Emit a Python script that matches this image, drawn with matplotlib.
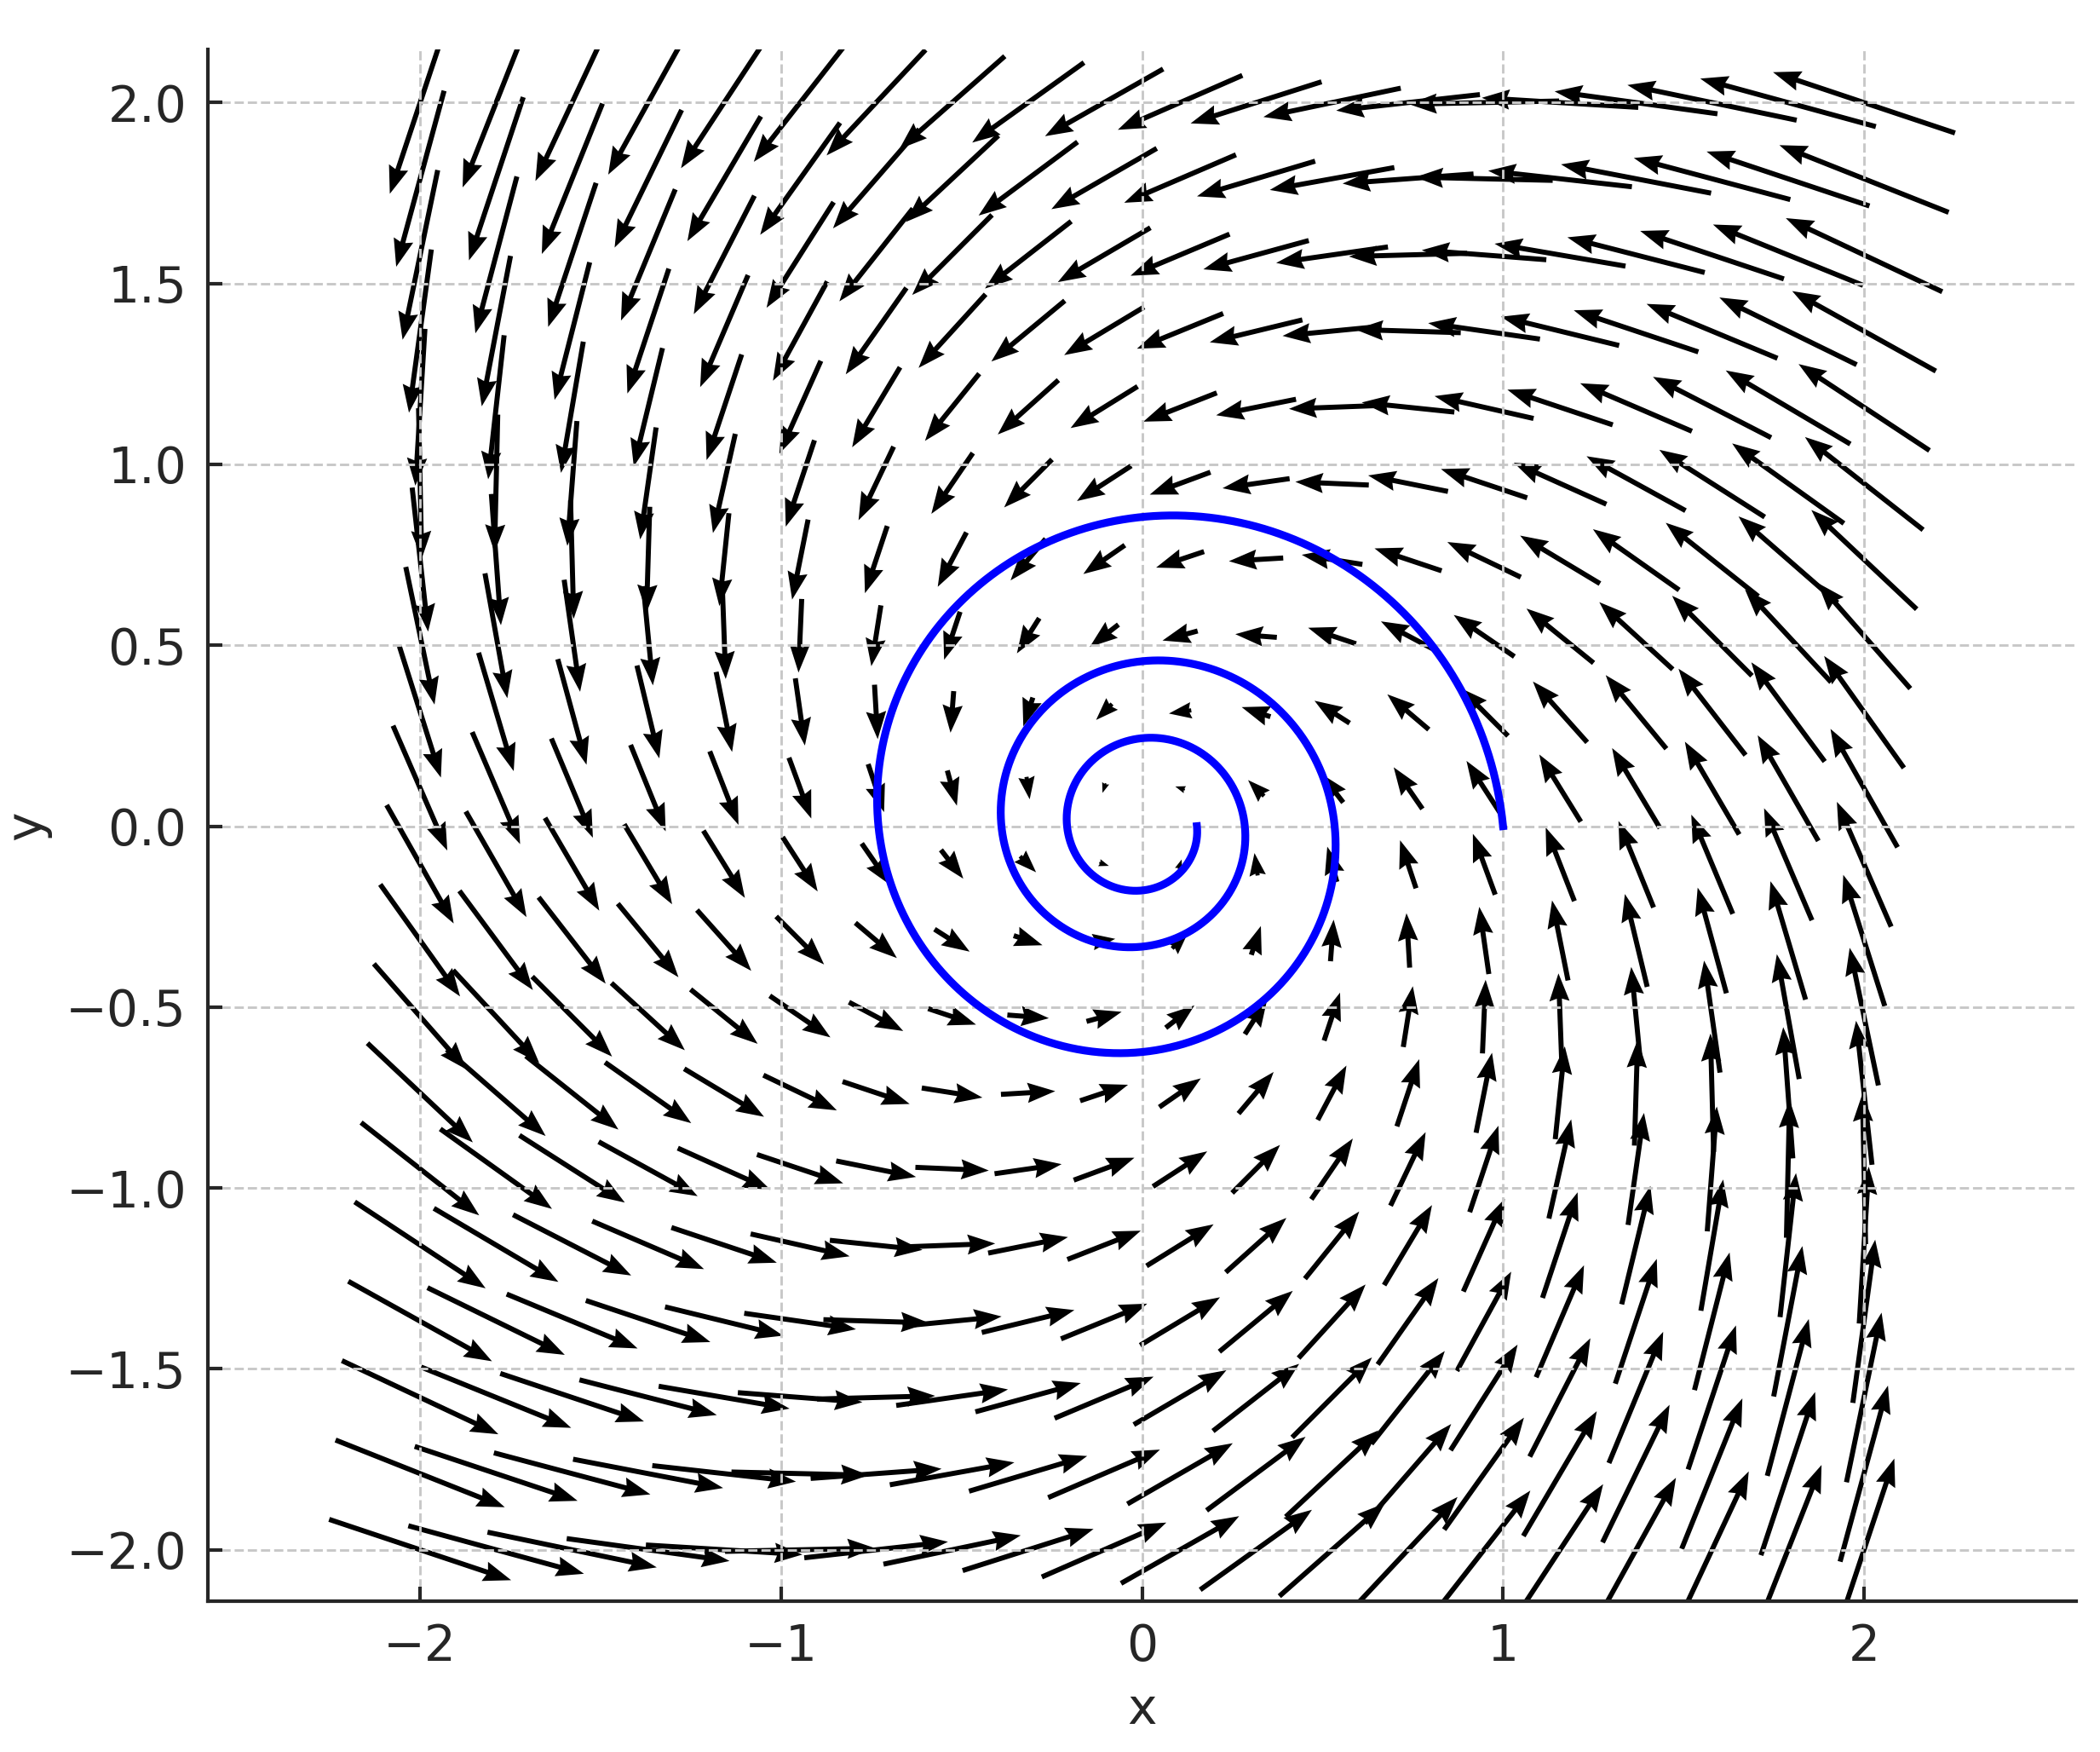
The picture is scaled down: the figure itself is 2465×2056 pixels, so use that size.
"""Direction field of a damped linear rotation with a spiral trajectory."""

import matplotlib

matplotlib.use("Agg")
import matplotlib.pyplot as plt
import numpy as np


# sample grid for the direction field
GRID_LIMITS = [-2.0, 2.0]
GRID_POINTS = 20
# field: d/dt [x, y] = FIELD_A @ [x, y]
FIELD_A = [[-0.5, -1.0],
           [1.0, -0.5]]
# spiral trajectory (weaker damping), from TRAJ_START over three turns
TRAJ_A = [[-0.1, -1.0],
          [1.0, -0.1]]
TRAJ_START = [1.0, 0.0]
TRAJ_T_END = 6 * np.pi

X_TICKS = [-2, -1, 0, 1, 2]
Y_TICKS = [-2.0, -1.5, -1.0, -0.5, 0.0, 0.5, 1.0, 1.5, 2.0]
TEXT = "#262626"


def trajectory(a, start, t_end, steps=3000):
    a = np.asarray(a)
    dt = t_end / steps
    state = np.asarray(start, dtype=float)
    path = [state]
    for _ in range(steps):
        k1 = a @ state
        k2 = a @ (state + dt / 2 * k1)
        k3 = a @ (state + dt / 2 * k2)
        k4 = a @ (state + dt * k3)
        state = state + dt / 6 * (k1 + 2 * k2 + 2 * k3 + k4)
        path.append(state)
    return np.array(path)


def main() -> None:
    grid = np.linspace(GRID_LIMITS[0], GRID_LIMITS[1], GRID_POINTS)
    X, Y = np.meshgrid(grid, grid)
    a = np.asarray(FIELD_A)
    U = a[0, 0] * X + a[0, 1] * Y
    V = a[1, 0] * X + a[1, 1] * Y
    path = trajectory(TRAJ_A, TRAJ_START, TRAJ_T_END)

    fig = plt.figure(figsize=(2465 / 300, 2056 / 300), dpi=300)
    ax = fig.add_axes([0.099, 0.0861, 0.8897, 0.8857])
    ax.quiver(
        X, Y, U, V, pivot="middle", angles="xy", scale_units="xy",
        scale=5.95, width=0.0027, headwidth=4, headlength=5.5,
        headaxislength=5, color="black", zorder=1,
    )
    ax.plot(path[:, 0], path[:, 1], color="blue", linewidth=2.2, zorder=3)

    ax.set_xlim(-2.588, 2.588)
    ax.set_ylim(-2.142, 2.147)
    ax.set_xticks(X_TICKS)
    ax.set_yticks(Y_TICKS)
    ax.set_yticklabels([f"{v:.1f}".replace("-", "\u2212") for v in Y_TICKS])
    ax.grid(True, linestyle="--", linewidth=0.7, color="#c8c8c8")
    ax.set_xlabel("x", fontsize=14, color=TEXT, labelpad=4)
    ax.set_ylabel("y", fontsize=14, color=TEXT, labelpad=4)
    ax.tick_params(direction="in", length=4, width=1, labelsize=14,
                   colors=TEXT, pad=6)
    for side in ("top", "right"):
        ax.spines[side].set_visible(False)
    for side in ("left", "bottom"):
        ax.spines[side].set_linewidth(1.0)
        ax.spines[side].set_color(TEXT)

    fig.savefig("out.png", dpi=300)
    plt.close(fig)


if __name__ == "__main__":
    main()
